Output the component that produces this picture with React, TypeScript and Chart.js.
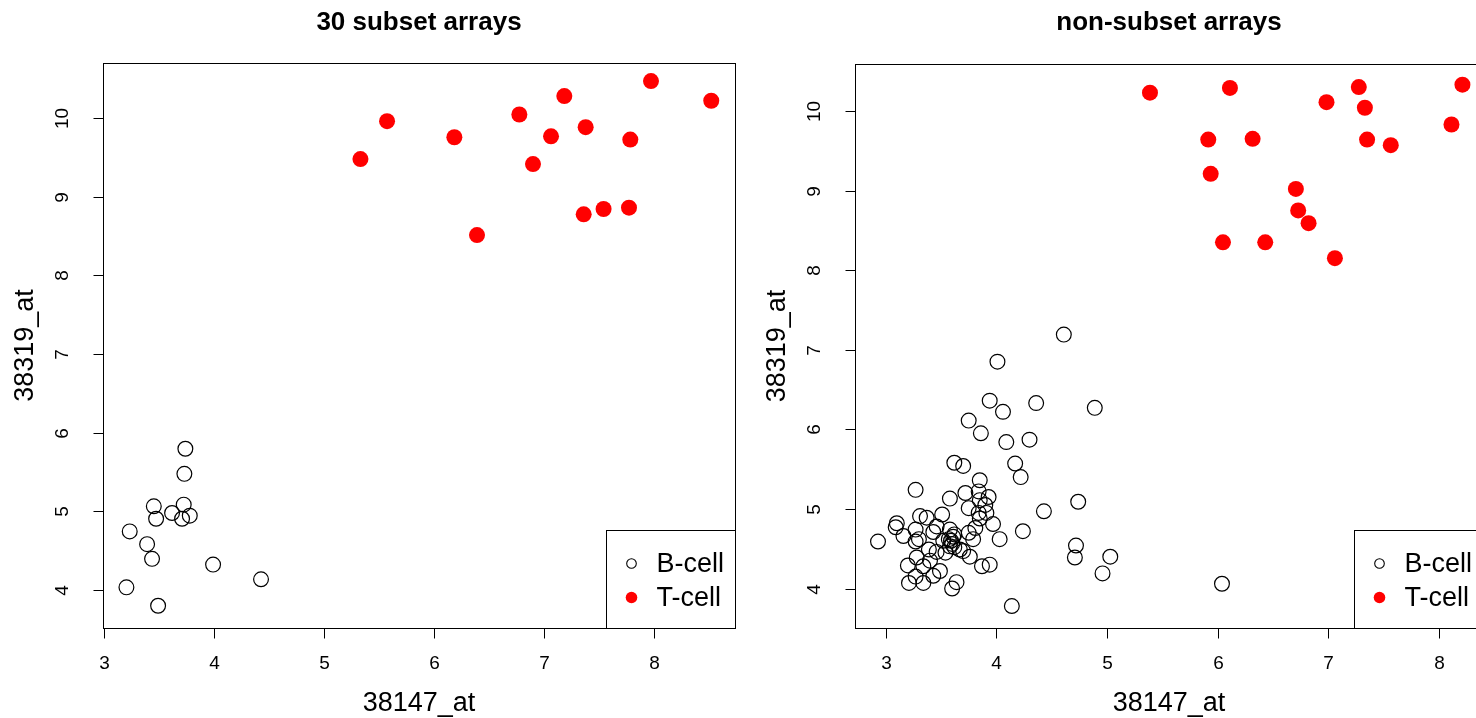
import React, { useEffect, useRef } from "react";
import { Chart, registerables } from "chart.js";

Chart.register(...registerables);

// ---------- data ----------
const subsetBcellX = [3.742, 3.733, 3.455, 3.727, 3.621, 3.476, 3.712, 3.782, 3.236, 3.394, 3.439, 3.994, 4.43, 3.206, 3.494];
const subsetBcellY = [5.796, 5.477, 5.064, 5.085, 4.979, 4.906, 4.906, 4.945, 4.745, 4.583, 4.396, 4.323, 4.136, 4.034, 3.8];
const subsetTcellX = [5.334, 5.576, 6.188, 6.394, 6.779, 6.903, 7.067, 7.188, 7.382, 7.364, 7.545, 7.788, 7.776, 7.976, 8.524];
const subsetTcellY = [9.479, 9.96, 9.756, 8.512, 10.045, 9.415, 9.768, 10.28, 9.884, 8.776, 8.844, 9.726, 8.861, 10.47, 10.22];

const nonSubsetBcellX = [
  4.61, 4.01, 3.94, 4.06, 4.36, 4.89, 3.75, 3.86, 4.09, 4.3, 3.62, 3.7, 4.17, 4.22, 3.85, 3.27,
  3.58, 3.72, 3.84, 3.93, 3.85, 4.43, 3.75, 3.84, 3.91, 3.51, 3.31, 3.37, 3.1, 3.09, 3.16, 3.27,
  3.43, 3.58, 3.62, 3.57, 3.97, 3.81, 3.79, 4.03, 4.24, 2.93, 3.27, 3.39, 3.46, 3.54, 3.67, 3.28,
  3.76, 3.2, 3.34, 3.49, 3.43, 3.87, 3.94, 3.27, 3.21, 3.34, 3.64, 3.6, 4.14,
  4.74, 4.72, 4.71, 4.96, 5.03, 6.04,
  3.59, 3.6, 3.58, 3.61, 3.46, 3.52, 3.62, 3.7, 3.85, 3.9, 3.3, 3.4, 3.75,
];
const nonSubsetBcellY = [
  7.19, 6.85, 6.36, 6.22, 6.33, 6.27, 6.11, 5.95, 5.84, 5.87, 5.58, 5.54, 5.57, 5.4, 5.36, 5.24,
  5.13, 5.2, 5.22, 5.15, 5.11, 4.97, 5.01, 4.95, 4.95, 4.93, 4.91, 4.89, 4.82, 4.77, 4.66, 4.74,
  4.71, 4.74, 4.68, 4.62, 4.81, 4.76, 4.62, 4.62, 4.72, 4.59, 4.59, 4.49, 4.46, 4.45, 4.49, 4.39,
  4.4, 4.29, 4.28, 4.22, 4.16, 4.28, 4.3, 4.15, 4.07, 4.07, 4.08, 4.0, 3.78,
  5.09, 4.54, 4.39, 4.19, 4.4, 4.06,
  4.6, 4.56, 4.53, 4.65, 4.78, 4.6, 4.52, 4.47, 4.88, 5.05, 4.62, 4.35, 4.7,
];
const nonSubsetTcellX = [5.389, 6.112, 6.985, 7.277, 7.332, 8.214, 8.115, 5.916, 6.317, 7.352, 7.566, 5.938, 6.708, 6.729, 6.823, 6.049, 6.431, 7.061];
const nonSubsetTcellY = [10.23, 10.29, 10.11, 10.3, 10.04, 10.33, 9.83, 9.64, 9.65, 9.64, 9.57, 9.21, 9.02, 8.75, 8.59, 8.35, 8.35, 8.15];

const xTickLabels = [3, 4, 5, 6, 7, 8];
const yTickLabels = [4, 5, 6, 7, 8, 9, 10];
const legendLabels = ["B-cell", "T-cell"];
const xAxisTitle = "38147_at";
const yAxisTitle = "38319_at";

const FONT = "'Liberation Sans', Arial, sans-serif";

type PanelProps = {
  title: string;
  bx: number[];
  by: number[];
  tx: number[];
  ty: number[];
  xRange: [number, number];
  yRange: [number, number];
  width: number;
  height: number;
  left: number;
  padding: { left: number; right: number; top: number; bottom: number };
};

function toPoints(xs: number[], ys: number[]) {
  return xs.map((x, i) => ({ x, y: ys[i] }));
}

function Panel(props: PanelProps) {
  const ref = useRef<HTMLCanvasElement | null>(null);
  useEffect(() => {
    if (!ref.current) return;
    const decor = {
      id: "rdecor",
      afterDraw(chart: any) {
        const ctx: CanvasRenderingContext2D = chart.ctx;
        const a = chart.chartArea;
        const xs = chart.scales.x;
        const ys = chart.scales.y;
        ctx.save();
        ctx.strokeStyle = "#000";
        ctx.fillStyle = "#000";
        ctx.lineWidth = 1;
        // box
        const L = Math.round(a.left) + 0.5;
        const T = Math.round(a.top) + 0.5;
        const R = Math.round(a.right) + 0.5;
        const B = Math.round(a.bottom) + 0.5;
        ctx.strokeRect(L, T, R - L, B - T);
        // x axis ticks
        ctx.font = `19px ${FONT}`;
        ctx.textAlign = "center";
        ctx.textBaseline = "alphabetic";
        xTickLabels.forEach((v) => {
          const px = Math.round(xs.getPixelForValue(v)) + 0.5;
          ctx.beginPath();
          ctx.moveTo(px, B);
          ctx.lineTo(px, B + 10);
          ctx.stroke();
          ctx.fillText(String(v), px, B + 40);
        });
        // y axis ticks
        yTickLabels.forEach((v) => {
          const py = Math.round(ys.getPixelForValue(v)) + 0.5;
          ctx.beginPath();
          ctx.moveTo(L, py);
          ctx.lineTo(L - 10, py);
          ctx.stroke();
          ctx.save();
          ctx.translate(L - 41, py);
          ctx.rotate(-Math.PI / 2);
          ctx.textAlign = "center";
          ctx.textBaseline = "middle";
          ctx.fillText(String(v), 0, 0);
          ctx.restore();
        });
        // axis titles
        const cx = (a.left + a.right) / 2;
        const cy = (a.top + a.bottom) / 2;
        ctx.font = `27px ${FONT}`;
        ctx.textAlign = "center";
        ctx.textBaseline = "alphabetic";
        ctx.fillText(xAxisTitle, cx, B + 82);
        ctx.save();
        ctx.translate(L - 78, cy);
        ctx.rotate(-Math.PI / 2);
        ctx.textBaseline = "middle";
        ctx.fillText(yAxisTitle, 0, 0);
        ctx.restore();
        // main title
        ctx.font = `bold 26px ${FONT}`;
        ctx.textBaseline = "alphabetic";
        ctx.fillText(props.title, cx, 30);
        // legend
        ctx.font = `27px ${FONT}`;
        const tw = Math.max(...legendLabels.map((s) => ctx.measureText(s).width));
        const lw = 50 + tw + 12;
        const lh = 99;
        const lx = Math.round(R - lw) + 0.5;
        const ly = Math.round(B - lh) + 0.5;
        ctx.fillStyle = "#fff";
        ctx.fillRect(lx, ly, R - lx, B - ly);
        ctx.strokeStyle = "#000";
        ctx.strokeRect(lx, ly, R - lx, B - ly);
        const rows = [ly + 33, ly + 67];
        // B-cell marker
        ctx.beginPath();
        ctx.arc(lx + 25, rows[0], 4.8, 0, Math.PI * 2);
        ctx.lineWidth = 1.1;
        ctx.strokeStyle = "#000";
        ctx.stroke();
        // T-cell marker
        ctx.beginPath();
        ctx.arc(lx + 25, rows[1], 5.8, 0, Math.PI * 2);
        ctx.fillStyle = "#ff0000";
        ctx.fill();
        ctx.fillStyle = "#000";
        ctx.textAlign = "left";
        ctx.textBaseline = "middle";
        legendLabels.forEach((s, i) => ctx.fillText(s, lx + 50, rows[i] + 1));
        ctx.restore();
      },
    };
    const chart = new Chart(ref.current, {
      type: "scatter",
      data: {
        datasets: [
          {
            label: legendLabels[0],
            data: toPoints(props.bx, props.by),
            pointStyle: "circle",
            pointRadius: 7.4,
            pointHoverRadius: 7.4,
            borderWidth: 1.2,
            borderColor: "#000000",
            backgroundColor: "rgba(0,0,0,0)",
          },
          {
            label: legendLabels[1],
            data: toPoints(props.tx, props.ty),
            pointStyle: "circle",
            pointRadius: 8,
            pointHoverRadius: 8,
            borderWidth: 0,
            borderColor: "#ff0000",
            backgroundColor: "#ff0000",
          },
        ],
      },
      options: {
        animation: false,
        responsive: false,
        devicePixelRatio: 1,
        events: [],
        layout: { padding: props.padding, autoPadding: false },
        plugins: { legend: { display: false }, title: { display: false }, tooltip: { enabled: false } },
        scales: {
          x: { type: "linear", display: false, min: props.xRange[0], max: props.xRange[1] },
          y: { type: "linear", display: false, min: props.yRange[0], max: props.yRange[1] },
        },
      },
      plugins: [decor],
    });
    return () => chart.destroy();
  }, []);
  return (
    <canvas
      ref={ref}
      width={props.width}
      height={props.height}
      style={{ position: "absolute", left: props.left, top: 0, width: props.width, height: props.height }}
    />
  );
}

export default function App() {
  return (
    <div
      style={{
        position: "fixed",
        left: 0,
        top: 0,
        width: 1476,
        height: 718,
        overflow: "hidden",
        background: "#fff",
      }}
    >
      <Panel
        title="30 subset arrays"
        bx={subsetBcellX}
        by={subsetBcellY}
        tx={subsetTcellX}
        ty={subsetTcellY}
        xRange={[2.993, 8.74]}
        yRange={[3.517, 10.7]}
        width={740}
        height={718}
        left={0}
        padding={{ left: 103, right: 5, top: 63, bottom: 90 }}
      />
      <Panel
        title="non-subset arrays"
        bx={nonSubsetBcellX}
        by={nonSubsetBcellY}
        tx={nonSubsetTcellX}
        ty={nonSubsetTcellY}
        xRange={[2.722, 8.4]}
        yRange={[3.504, 10.59]}
        width={760}
        height={718}
        left={740}
        padding={{ left: 115, right: 17, top: 64, bottom: 90 }}
      />
    </div>
  );
}
